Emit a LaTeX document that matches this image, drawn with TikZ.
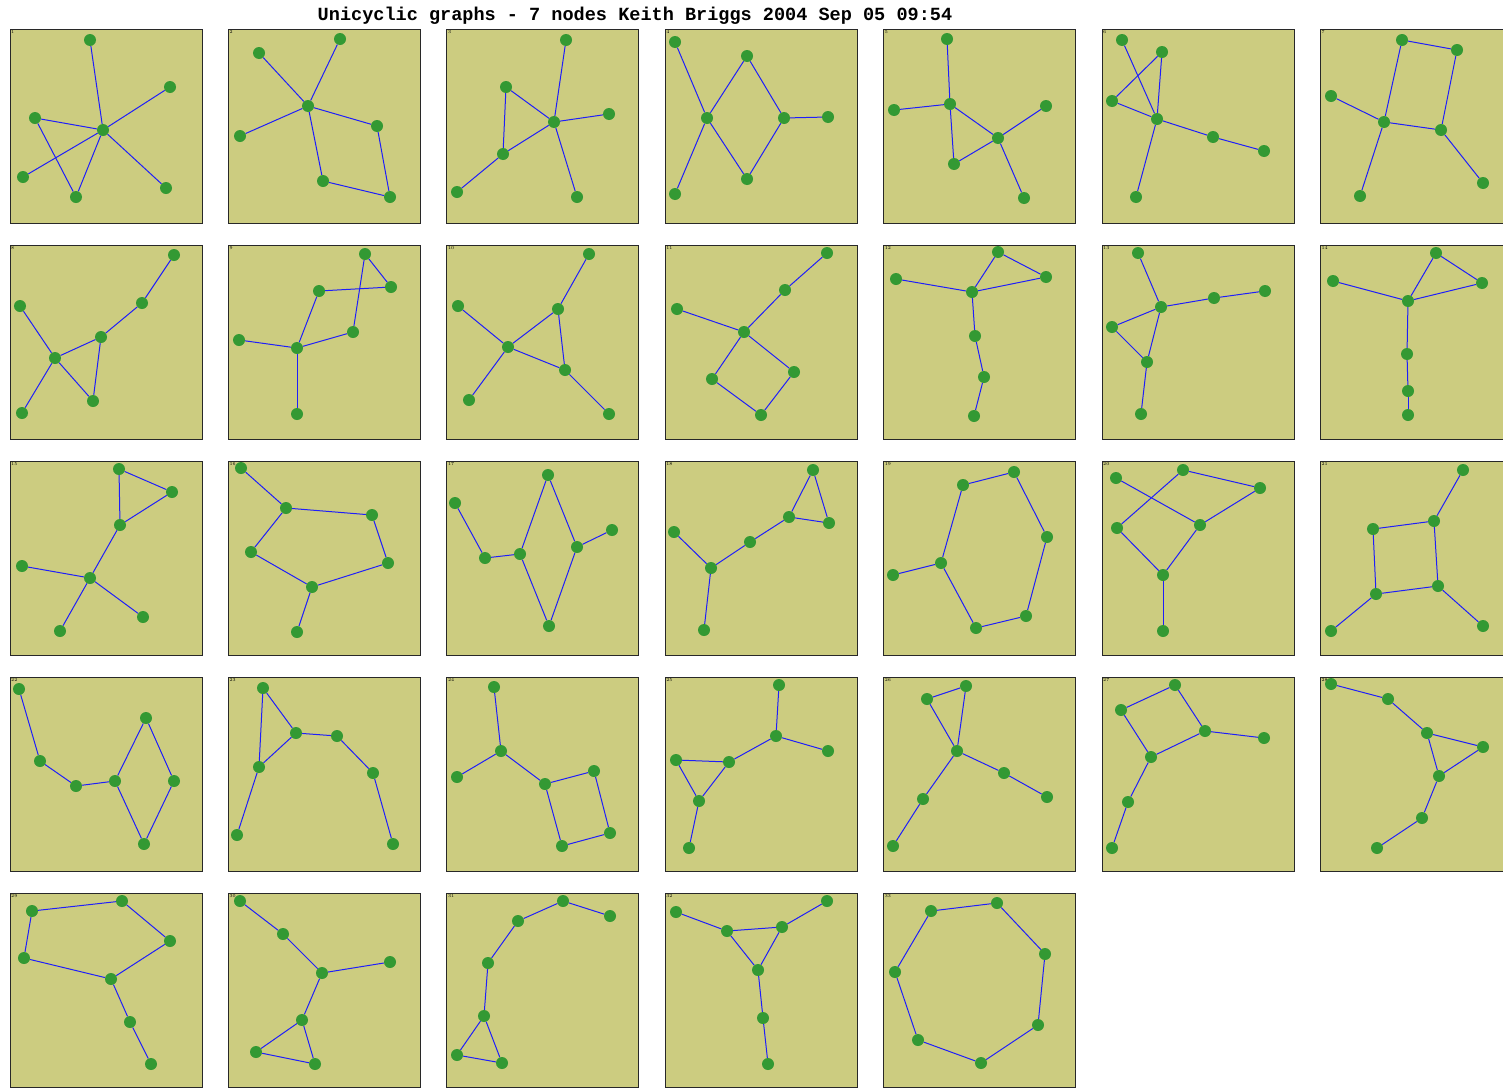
\documentclass[tikz,border=0pt]{standalone}
\usepackage{fontspec}
\newfontfamily\titlefont{Liberation Mono}
\definecolor{panelfill}{RGB}{204,204,128}
\definecolor{nodegreen}{RGB}{51,153,51}
\definecolor{edgeblue}{RGB}{30,30,250}
\definecolor{boxline}{RGB}{40,40,40}
\tikzset{
  panelbox/.style={draw=boxline, fill=panelfill, line width=0.9pt, minimum width=192pt, minimum height=194pt, inner sep=0pt, anchor=north west},
  vtx/.style={circle, fill=nodegreen, inner sep=0pt, minimum size=12pt},
  edg/.style={draw=edgeblue, line width=1pt},
  pnum/.style={font=\fontsize{4.5}{5}\selectfont, inner sep=0pt, anchor=north west},
}
\newcommand{\gpanel}[5]{%
  \pgfmathsetmacro\panx{9.5+218.4*#2}%
  \pgfmathsetmacro\pany{29+216*#3}%
  \node[panelbox] (box#1) at (\panx,\pany) {};
  \node[pnum] (lab#1) at ([xshift=1.5pt,yshift=-1.5pt]box#1.north west) {#1};
  \foreach \n/\vx/\vy in {#4} \node[vtx] (p#1\n) at (\vx,\vy) {};
  \foreach \ea/\eb in {#5} \draw[edg] (p#1\ea) -- (p#1\eb);
}
\begin{document}
\begin{tikzpicture}[x=1pt,y=-1pt]
\useasboundingbox (0,0) rectangle (1503,1087);
\fill[white] (0,0) rectangle (1503,1087);
\clip (0,0) rectangle (1503,1087);
\node[font=\titlefont\fontsize{18.55}{20}\selectfont\bfseries, inner sep=0pt] (title) at (635,15.5) {Unicyclic graphs - 7 nodes Keith Briggs 2004 Sep 05 09:54};
% row 1
\gpanel{1}{0}{0}{a/90/40, b/170/87, c/35/118, d/103/130, e/23/177, f/76/197, g/166/188}{d/a, d/b, d/c, d/e, d/g, d/f, c/f}
\gpanel{2}{1}{0}{a/259/53, b/340/39, c/308/106, d/240/136, e/377/126, f/323/181, g/390/197}{c/a, c/b, c/d, c/e, c/f, e/g, f/g}
\gpanel{3}{2}{0}{a/566/40, b/506/87, c/554/122, d/609/114, e/503/154, f/457/192, g/577/197}{c/a, c/b, c/d, c/e, c/g, b/e, e/f}
\gpanel{4}{3}{0}{a/675/42, b/747/56, c/707/118, d/784/118, e/828/117, f/747/179, g/675/194}{a/c, c/b, b/d, d/e, d/f, f/c, c/g}
\gpanel{5}{4}{0}{a/947/39, b/894/110, c/950/104, d/1046/106, e/998/138, f/954/164, g/1024/198}{c/a, c/b, c/e, c/f, f/e, e/d, e/g}
\gpanel{6}{5}{0}{a/1122/40, b/1162/52, c/1112/101, d/1157/119, e/1213/137, f/1264/151, g/1136/197}{a/d, b/d, b/c, c/d, d/e, e/f, d/g}
\gpanel{7}{6}{0}{a/1402/40, b/1457/50, c/1331/96, d/1384/122, e/1441/130, f/1483/183, g/1360/196}{a/b, b/e, e/d, d/a, d/c, d/g, e/f}
% row 2
\gpanel{8}{0}{1}{a/174/255, b/20/306, c/142/303, d/101/337, e/55/358, f/22/413, g/93/401}{a/c, c/d, d/e, d/g, e/g, e/b, e/f}
\gpanel{9}{1}{1}{a/365/254, b/391/287, c/319/291, d/353/332, e/239/340, f/297/348, g/297/414}{a/b, a/d, b/c, c/f, d/f, f/e, f/g}
\gpanel{10}{2}{1}{a/589/254, b/458/306, c/558/309, d/508/347, e/565/370, f/469/400, g/609/414}{a/c, c/d, c/e, d/e, d/b, d/f, e/g}
\gpanel{11}{3}{1}{a/827/253, b/785/290, c/677/309, d/744/332, e/794/372, f/712/379, g/761/415}{a/b, b/d, d/c, d/e, d/f, f/g, g/e}
\gpanel{12}{4}{1}{a/998/252, b/896/279, c/1046/277, d/972/292, e/975/336, f/984/377, g/974/416}{a/c, a/d, d/c, d/b, d/e, e/f, f/g}
\gpanel{13}{5}{1}{a/1138/253, b/1265/291, c/1214/298, d/1161/307, e/1112/327, f/1147/362, g/1141/414}{a/d, d/c, c/b, d/e, e/f, f/d, f/g}
\gpanel{14}{6}{1}{a/1436/253, b/1333/281, c/1482/283, d/1408/301, e/1407/354, f/1408/391, g/1408/415}{a/c, a/d, d/c, d/b, d/e, e/f, f/g}
% row 3
\gpanel{15}{0}{2}{a/119/469, b/172/492, c/120/525, d/22/566, e/90/578, f/143/617, g/60/631}{a/b, a/c, c/b, c/e, e/d, e/f, e/g}
\gpanel{16}{1}{2}{a/241/468, b/286/508, c/372/515, d/251/552, e/388/563, f/312/587, g/297/632}{a/b, b/c, c/e, e/f, f/d, d/b, f/g}
\gpanel{17}{2}{2}{a/455/503, b/548/475, c/612/530, d/577/547, e/520/554, f/485/558, g/549/626}{a/f, f/e, e/b, b/d, d/c, d/g, g/e}
\gpanel{18}{3}{2}{a/813/470, b/829/523, c/789/517, d/674/532, e/750/542, f/711/568, g/704/630}{a/b, a/c, c/b, c/e, e/f, f/d, f/g}
\gpanel{19}{4}{2}{a/1014/472, b/963/485, c/1047/537, d/941/563, e/893/575, f/1026/616, g/976/628}{b/a, a/c, c/f, f/g, g/d, d/b, d/e}
\gpanel{20}{5}{2}{a/1183/470, b/1116/478, c/1260/488, d/1117/528, e/1200/525, f/1163/575, g/1163/631}{b/e, a/c, a/d, c/e, e/f, f/d, f/g}
\gpanel{21}{6}{2}{a/1463/470, b/1434/521, c/1373/529, d/1376/594, e/1438/586, f/1483/626, g/1331/631}{a/b, b/c, c/d, d/e, e/b, e/f, d/g}
% row 4
\gpanel{22}{0}{3}{a/19/689, b/146/718, c/40/761, d/115/781, e/76/786, f/174/781, g/144/844}{a/c, c/e, e/d, d/b, b/f, f/g, g/d}
\gpanel{23}{1}{3}{a/263/688, b/296/733, c/337/736, d/259/767, e/373/773, f/237/835, g/393/844}{a/b, a/d, b/d, b/c, c/e, e/g, d/f}
\gpanel{24}{2}{3}{a/494/687, b/501/751, c/457/777, d/545/784, e/594/771, f/610/833, g/562/846}{a/b, b/c, b/d, d/e, e/f, f/g, g/d}
\gpanel{25}{3}{3}{a/779/685, b/776/736, c/828/751, d/676/760, e/729/762, f/699/801, g/689/848}{a/b, b/c, b/e, e/d, d/f, f/e, f/g}
\gpanel{26}{4}{3}{a/966/686, b/927/699, c/957/751, d/1004/773, e/1047/797, f/923/799, g/893/846}{a/b, b/c, c/a, c/d, d/e, c/f, f/g}
\gpanel{27}{5}{3}{a/1175/685, b/1121/710, c/1205/731, d/1264/738, e/1151/757, f/1128/802, g/1112/848}{a/b, a/c, c/d, c/e, e/b, e/f, f/g}
\gpanel{28}{6}{3}{a/1331/684, b/1388/699, c/1427/733, d/1483/747, e/1439/776, f/1422/818, g/1377/848}{a/b, b/c, c/d, c/e, e/d, e/f, f/g}
% row 5
\gpanel{29}{0}{4}{a/32/911, b/122/901, c/170/941, d/24/958, e/111/979, f/130/1022, g/151/1064}{a/b, b/c, c/e, e/d, d/a, e/f, f/g}
\gpanel{30}{1}{4}{a/240/901, b/283/934, c/322/973, d/390/962, e/302/1020, f/256/1052, g/315/1064}{a/b, b/c, c/d, c/e, e/f, f/g, g/e}
\gpanel{31}{2}{4}{a/563/901, b/610/916, c/518/921, d/488/963, e/484/1016, f/457/1055, g/502/1063}{a/b, a/c, c/d, d/e, e/f, f/g, g/e}
\gpanel{32}{3}{4}{a/676/912, b/827/901, c/727/931, d/782/927, e/758/970, f/763/1018, g/768/1064}{a/c, c/d, d/b, c/e, e/d, e/f, f/g}
\gpanel{33}{4}{4}{a/931/911, b/997/903, c/1045/954, d/895/972, e/1038/1025, f/918/1040, g/981/1063}{a/b, b/c, c/e, e/g, g/f, f/d, d/a}
\end{tikzpicture}
\end{document}
